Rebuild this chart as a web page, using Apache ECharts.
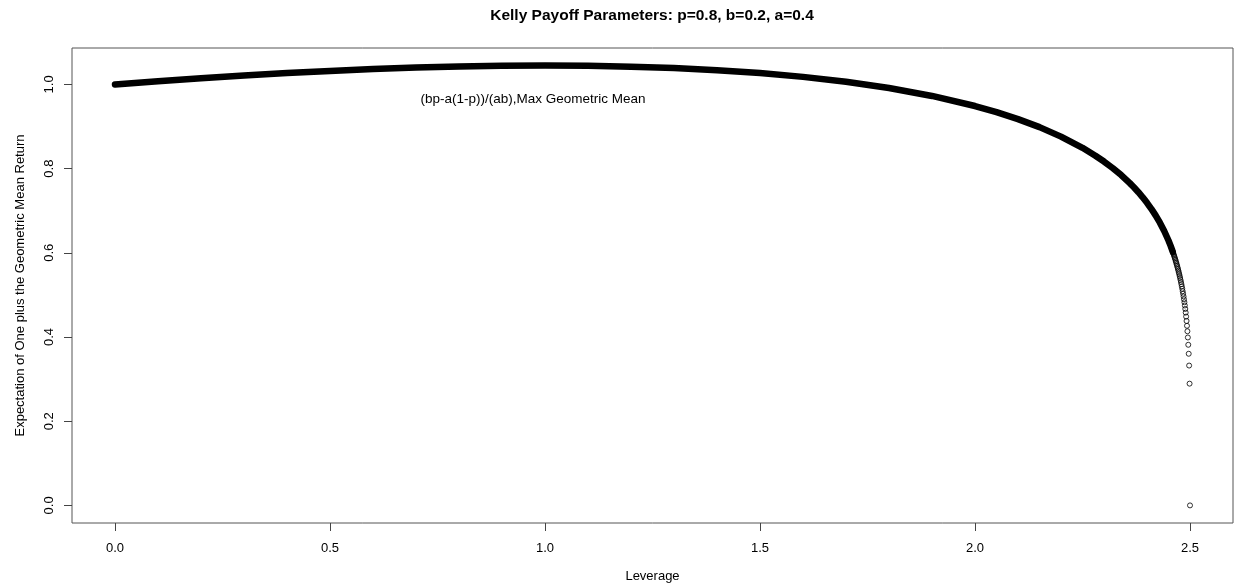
<!DOCTYPE html>
<html>
<head>
<meta charset="utf-8">
<script src="https://cdn.jsdelivr.net/npm/echarts@6/dist/echarts.min.js"></script>
<style>
  html, body { margin: 0; padding: 0; background: #fff; }
  #chart { width: 1234px; height: 588px; }
</style>
</head>
<body>
<div id="chart"></div>
<script>
// Leverage values and expected (1 + geometric mean return) along the smooth part of the curve
const curveX = [0.0, 0.1, 0.2, 0.3, 0.4, 0.5, 0.6, 0.7, 0.8, 0.9, 1.0, 1.1, 1.2, 1.3, 1.4, 1.5, 1.6, 1.7, 1.8, 1.9, 2.0,
  2.05, 2.1, 2.15, 2.2, 2.25, 2.28, 2.3, 2.32, 2.34, 2.36, 2.37, 2.38, 2.39, 2.40, 2.41, 2.42, 2.43, 2.44, 2.45, 2.455, 2.46];
const curveY = [1.0, 1.0077, 1.0148, 1.0213, 1.0271, 1.0321, 1.0364, 1.0399, 1.0425, 1.0441, 1.0447, 1.0441, 1.0422, 1.0388, 1.0339, 1.0270, 1.0179, 1.0063, 0.9914, 0.9726, 0.9487,
  0.9342, 0.9176, 0.8985, 0.8760, 0.8494, 0.8307, 0.8168, 0.8015, 0.7846, 0.7655, 0.7551, 0.7439, 0.7319, 0.7188, 0.7046, 0.6889, 0.6715, 0.6518, 0.6292, 0.6164, 0.6023];

// Individual points near full leverage, where the values fall off steeply
const tailX = [2.500, 2.499, 2.498, 2.497, 2.496, 2.495, 2.494, 2.493, 2.492, 2.491, 2.490,
  2.489, 2.488, 2.487, 2.486, 2.485, 2.484, 2.483, 2.482, 2.481, 2.480,
  2.479, 2.478, 2.477, 2.476, 2.475, 2.474, 2.473, 2.472, 2.471, 2.470,
  2.469, 2.468, 2.467, 2.466, 2.465, 2.464, 2.463, 2.462, 2.461, 2.460];
const tailY = [0.0, 0.2892, 0.3322, 0.3602, 0.3815, 0.3989, 0.4137, 0.4266, 0.4381, 0.4485, 0.4580,
  0.4667, 0.4749, 0.4825, 0.4896, 0.4964, 0.5028, 0.5088, 0.5146, 0.5202, 0.5255,
  0.5306, 0.5355, 0.5402, 0.5448, 0.5492, 0.5534, 0.5576, 0.5616, 0.5655, 0.5693,
  0.5729, 0.5765, 0.5800, 0.5835, 0.5868, 0.5900, 0.5932, 0.5963, 0.5994, 0.6023];

const xTicks = [0.0, 0.5, 1.0, 1.5, 2.0, 2.5];
const yTicks = [0.0, 0.2, 0.4, 0.6, 0.8, 1.0];

const titleText = 'Kelly Payoff Parameters: p=0.8, b=0.2, a=0.4';
const noteText = '(bp-a(1-p))/(ab),Max Geometric Mean';
const xName = 'Leverage';
const yName = 'Expectation of One plus the Geometric Mean Return';

const FONT = '"Liberation Sans", Arial, sans-serif';

const chart = echarts.init(document.getElementById('chart'), null, { renderer: 'canvas' });

chart.setOption({
  animation: false,
  backgroundColor: '#fff',
  textStyle: { fontFamily: FONT },
  grid: {
    left: 72, top: 48, right: 1, bottom: 63,
    show: true, borderColor: '#555', borderWidth: 1, backgroundColor: 'transparent'
  },
  xAxis: {
    type: 'value',
    min: -0.1, max: 2.6,
    name: xName,
    nameLocation: 'middle',
    nameGap: 47,
    nameTextStyle: { fontFamily: FONT, fontSize: 13, color: '#000' },
    axisLine: { show: false, onZero: false },
    splitLine: { show: false },
    axisTick: { show: true, customValues: xTicks, length: 8, lineStyle: { color: '#444' } },
    axisLabel: {
      customValues: xTicks, margin: 19, fontFamily: FONT, fontSize: 13, color: '#000',
      formatter: v => v.toFixed(1)
    }
  },
  yAxis: {
    type: 'value',
    min: -0.0418, max: 1.0865,
    name: yName,
    nameLocation: 'middle',
    nameGap: 45,
    nameTextStyle: { fontFamily: FONT, fontSize: 13, color: '#000' },
    axisLine: { show: false, onZero: false },
    splitLine: { show: false },
    axisTick: { show: true, customValues: yTicks, length: 8, lineStyle: { color: '#444' } },
    axisLabel: {
      customValues: yTicks, rotate: 90, margin: 16, fontFamily: FONT, fontSize: 13, color: '#000',
      formatter: v => v.toFixed(1)
    }
  },
  graphic: [
    {
      type: 'text',
      x: 652, y: 16,
      style: {
        text: titleText, fontFamily: FONT, fontSize: 15.5, fontWeight: 'bold', fill: '#000',
        align: 'center', verticalAlign: 'middle'
      }
    },
    {
      type: 'text',
      x: 533, y: 99,
      style: {
        text: noteText, fontFamily: FONT, fontSize: 13.5, fill: '#000',
        align: 'center', verticalAlign: 'middle'
      }
    }
  ],
  series: [
    {
      type: 'line',
      data: curveX.map((x, i) => [x, curveY[i]]),
      showSymbol: false,
      symbol: 'none',
      lineStyle: { color: '#000', width: 6.5, cap: 'round', join: 'round' },
      z: 3
    },
    {
      type: 'scatter',
      data: tailX.map((x, i) => [x, tailY[i]]),
      symbol: 'circle',
      symbolSize: 5,
      itemStyle: { color: 'rgba(0,0,0,0)', borderColor: '#000', borderWidth: 1 },
      z: 4
    }
  ]
});
</script>
</body>
</html>
